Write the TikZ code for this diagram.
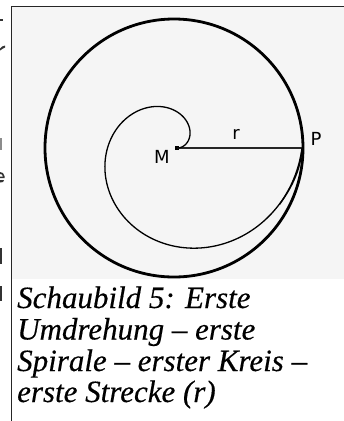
\documentclass[tikz,border=0pt]{standalone}
\usepackage{fontspec}
\setmainfont{Liberation Serif}
\newfontfamily\lblfont{DejaVu Sans}
\newfontfamily\capfont[FakeBold=0.35]{Liberation Serif}
\begin{document}
\begin{tikzpicture}[x=1pt,y=-1pt,
  frame/.style={line width=1pt, black!85},
  bigcircle/.style={line width=2.8pt, black},
  thinline/.style={line width=1.3pt, black},
  radline/.style={line width=1.2pt, black!85},
  dotbox/.style={fill=black, minimum size=3.5pt, inner sep=0pt, draw=none},
  lbl/.style={font=\lblfont\fontsize{18}{18}\selectfont, inner sep=0pt},
  captext/.style={font=\capfont\fontsize{31}{31}\selectfont\itshape, anchor=base west, inner sep=0pt},
  frag/.style={fill=black!80, draw=none}]
\useasboundingbox (0,0) rectangle (344,421);
% scanned area background
\fill[black!4] (12,7) rectangle (344,279);
% frame lines
\draw[frame] (344,6) -- (11.5,6) -- (11.5,421);
% cut-off letters of the neighbouring column
\fill[frag] (0,19) rectangle (3,21);
\fill[frag] (0,48.5) -- (2,46.5) -- (5,45.5) -- (5,47.5) -- (3,48.5) -- (0,50.5) -- cycle;
\fill[black!45] (0,138) rectangle (2,150);
\fill[frag] (0,172) -- (3,173) -- (4.5,176) -- (4.5,178) -- (0,178) -- (0,176.5) -- (3,176.5) -- (2,174.5) -- (0,174) -- cycle;
\fill[frag] (0,180) -- (4,180) -- (3,182) -- (0,182.5) -- cycle;
\fill[frag] (0,248) rectangle (2,264);
\fill[frag] (0,286) rectangle (2,301);
% big circle
\coordinate (C) at (174,148);
\draw[bigcircle] (C) circle[radius=129];
% centre and point on the circle
\node[dotbox] (M) at (177,148) {};
\node[dotbox, minimum size=3pt] (P) at (302,148) {};
% radius
\draw[radline] (M.center) -- (P.center);
% spiral
\draw[thinline, line join=round] plot[domain=0:6.2832, samples=240, smooth, variable=\t]
  ({177 + (19.894*\t + 7*sin(deg(\t/2)))*cos(deg(\t))},
   {148 - (19.894*\t + 7*sin(deg(\t/2)))*sin(deg(\t))});
% second stroke near P
\coordinate (J) at (279.5,204.5);
\draw[thinline] (P.center) .. controls (301,168) and (293,186) .. (J);
% labels
\node[lbl] (Ml) at (162,157) {M};
\node[lbl] (rl) at (236,134) {r};
\node[lbl] (Pl) at (316,139) {P};
% caption
\node[captext] (c1) at (17,308) {Schaubild 5: Erste};
\node[captext] (c2) at (17,339.5) {Umdrehung – erste};
\node[captext] (c3) at (17,371) {Spirale – erster Kreis –};
\node[captext] (c4) at (17,402) {erste Strecke (r)};
\end{tikzpicture}
\end{document}
